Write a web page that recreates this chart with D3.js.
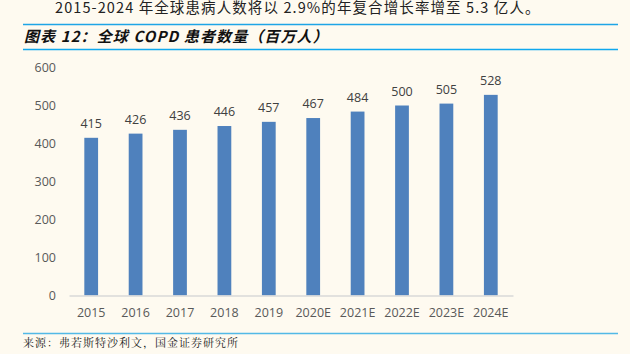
<!DOCTYPE html>
<html><head><meta charset="utf-8">
<script src="https://cdn.jsdelivr.net/npm/d3@7"></script>
<style>
html,body{margin:0;padding:0;background:#fefaf0;}
svg{display:block;}
</style></head>
<body>
<script>
const categories = ["2015","2016","2017","2018","2019","2020E","2021E","2022E","2023E","2024E"];
const values = [415,426,436,446,457,467,484,500,505,528];
const yTicks = [0,100,200,300,400,500,600];
const headText = "2015-2024 年全球患病人数将以 2.9%的年复合增长率增至 5.3 亿人。";
const titleText = "图表 12：全球 COPD 患者数量（百万人）";
const sourceText = "来源：弗若斯特沙利文，国金证券研究所";

const W = 630, H = 354;
const svg = d3.select("body").append("svg").attr("width", W).attr("height", H);
svg.append("rect").attr("width", W).attr("height", H).attr("fill", "#fefaf0");

const cjk = "'Noto Sans CJK SC', 'Noto Sans', sans-serif";
const num = "'Open Sans', 'Noto Sans', sans-serif";

// top paragraph text
svg.append("text").attr("x", 55).attr("y", 13).attr("font-family", cjk)
  .attr("font-size", 14.5).attr("letter-spacing", 1.1).attr("fill", "#222").text(headText);

// title lines
svg.append("line").attr("x1", 23).attr("x2", 618).attr("y1", 24.5).attr("y2", 24.5)
  .attr("stroke", "#1ea5e6").attr("stroke-width", 1.6);
svg.append("line").attr("x1", 23).attr("x2", 618).attr("y1", 49.5).attr("y2", 49.5)
  .attr("stroke", "#0fa8ee").attr("stroke-width", 1.4);
svg.append("text").attr("x", 24).attr("y", 42).attr("font-family", cjk)
  .attr("font-size", 15).attr("font-style", "italic").attr("font-weight", 700)
  .attr("letter-spacing", 1.1).attr("fill", "#111").text(titleText);

// source line
svg.append("line").attr("x1", 23).attr("x2", 618).attr("y1", 333.5).attr("y2", 333.5)
  .attr("stroke", "#52b9e6").attr("stroke-width", 1.6);
svg.append("text").attr("x", 23).attr("y", 347).attr("font-family", "'Noto Serif CJK SC', " + cjk)
  .attr("font-size", 11).attr("letter-spacing", 1).attr("fill", "#222").text(sourceText);

// chart
const x = d3.scaleBand().domain(categories).range([69, 513]).paddingInner(0.69).paddingOuter(0.345);
const y = d3.scaleLinear().domain([0, 600]).range([295.5, 67.5]);

const yAxis = svg.append("g").attr("transform", "translate(60,0)")
  .call(d3.axisLeft(y).tickValues(yTicks).tickSize(0).tickPadding(4));
yAxis.select(".domain").remove();
yAxis.selectAll("text").attr("font-family", num).attr("font-size", 12.5).attr("fill", "#595959");

svg.append("g").selectAll("rect").data(values).join("rect")
  .attr("x", (d, i) => x(categories[i]))
  .attr("width", x.bandwidth())
  .attr("y", d => y(d))
  .attr("height", d => y(0) - y(d))
  .attr("fill", "#4f81bd");

const xAxis = svg.append("g").attr("transform", `translate(0,${y(0)})`)
  .call(d3.axisBottom(x).tickSize(0).tickPadding(13));
xAxis.select(".domain").attr("stroke", "#d9d9d9").attr("stroke-width", 1.5);
xAxis.selectAll("text").attr("font-family", num).attr("font-size", 12.5).attr("fill", "#595959");

svg.append("g").selectAll("text").data(values).join("text")
  .attr("x", (d, i) => x(categories[i]) + x.bandwidth() / 2)
  .attr("y", d => y(d) - 10)
  .attr("text-anchor", "middle")
  .attr("font-family", num).attr("font-size", 12.5).attr("fill", "#404040")
  .text(d => d);
</script>
</body></html>
